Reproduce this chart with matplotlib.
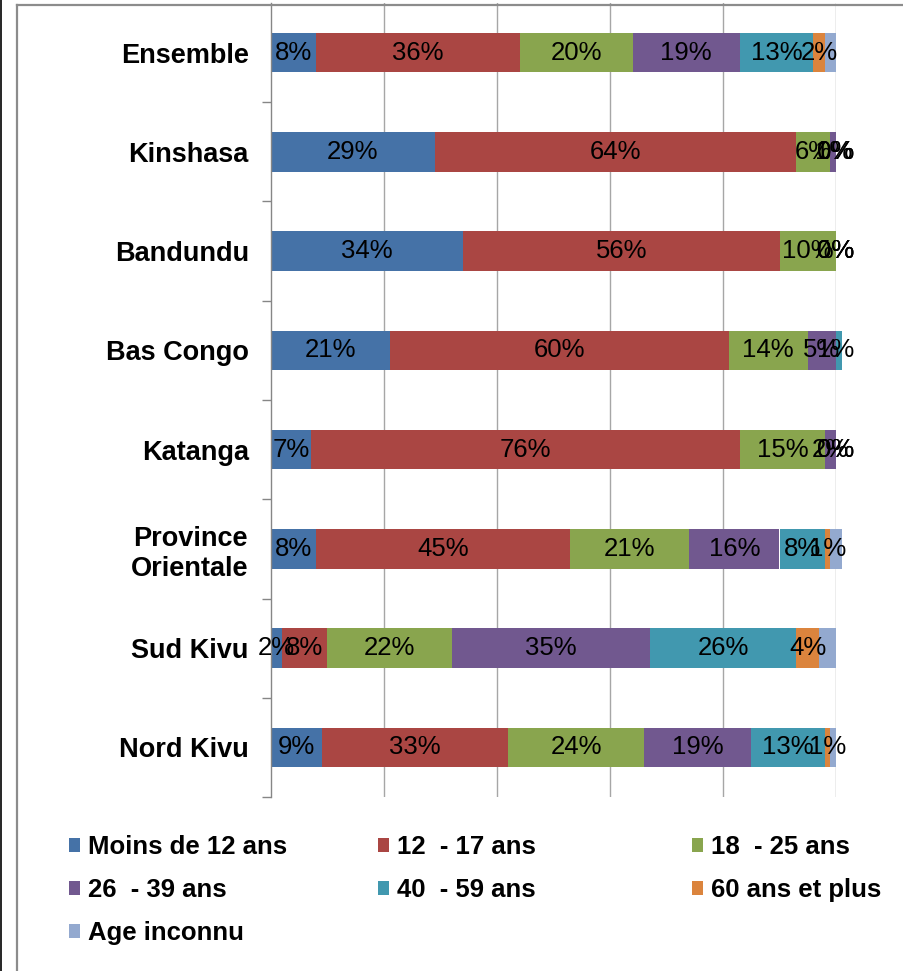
import matplotlib
matplotlib.use("Agg")
import matplotlib.pyplot as plt
from matplotlib.lines import Line2D

plt.rcParams['font.family'] = ['Liberation Sans', 'DejaVu Sans']

provinces = ["Ensemble", "Kinshasa", "Bandundu", "Bas Congo", "Katanga",
             "Province\nOrientale", "Sud Kivu", "Nord Kivu"]
groups = ["Moins de 12 ans", "12  - 17 ans", "18  - 25 ans", "26  - 39 ans",
          "40  - 59 ans", "60 ans et plus", "Age inconnu"]
colors = ["#4572A7", "#AA4643", "#89A54E", "#71588F", "#4198AF", "#DB843D", "#93A9CF"]

# percentages, one list per age group, in province order
moins12 = [8, 29, 34, 21, 7, 8, 2, 9]
a12_17 = [36, 64, 56, 60, 76, 45, 8, 33]
a18_25 = [20, 6, 10, 14, 15, 21, 22, 24]
a26_39 = [19, 1, 0, 5, 2, 16, 35, 19]
a40_59 = [13, 0, 0, 1, 0, 8, 26, 13]
a60plus = [2, 0, 0, 0, 0, 1, 4, 1]
inconnu = [2, 0, 0, 0, 0, 2, 3, 1]
series = [moins12, a12_17, a18_25, a26_39, a40_59, a60plus, inconnu]

fig = plt.figure(figsize=(9.04, 9.71), dpi=100)
ax = fig.add_axes([271 / 904, 1 - 797 / 971, 565 / 904, 794 / 971])

ypos = list(range(len(provinces)))
left = [0.0] * len(provinces)
containers = []
for name, vals, col in zip(groups, series, colors):
    frac = [v / 100 for v in vals]
    bc = ax.barh(ypos, frac, left=left, height=0.4, color=col, label=name,
                 edgecolor="none", zorder=2)
    for p in bc:
        p.set_clip_on(False)
    containers.append((bc, vals))
    left = [l + f for l, f in zip(left, frac)]

# data labels on every series except "Age inconnu"
for bc, vals in containers[:-1]:
    texts = ax.bar_label(bc, labels=[f"{v}%" for v in vals], label_type="center",
                         fontsize=18.5, color="black")
    for t in texts:
        t.set_annotation_clip(False)
        t.set_clip_on(False)

ax.set_xlim(0, 1)
ax.set_ylim(len(provinces) - 0.5, -0.5)
ax.set_xticks([0.2, 0.4, 0.6, 0.8, 1.0])
ax.set_xticklabels([])
ax.tick_params(axis="x", length=0)
ax.xaxis.grid(True, color="#A6A6A6", linewidth=1.0)
ax.set_axisbelow(True)

ax.set_yticks(ypos)
ax.set_yticklabels(provinces, fontsize=19.5, fontweight="bold", multialignment="center")
ax.tick_params(axis="y", which="major", length=0, pad=16)
ax.set_yticks([i - 0.5 for i in range(1, len(provinces) + 1)], minor=True)
ax.tick_params(axis="y", which="minor", length=6.5, width=1, color="#868686")

for s in ["top", "right", "bottom"]:
    ax.spines[s].set_visible(False)
ax.spines["left"].set_color("#868686")
ax.spines["left"].set_linewidth(1)

# legend, three columns of equal width
handles = [c[0] for c in containers]
cols = [[0, 3, 6], [1, 4], [2, 5]]
xs = [56 / 904, 365 / 904, 679 / 904]
for idx, x0 in zip(cols, xs):
    fig.legend([handles[i] for i in idx], [groups[i] for i in idx],
               loc="upper left", bbox_to_anchor=(x0, 1 - 822 / 971),
               frameon=False, ncol=1, handlelength=0.45, handleheight=0.45,
               handletextpad=0.3, labelspacing=0.74, borderpad=0,
               prop={"size": 18.5, "weight": "bold"})

# chart frame, cut by the image edges
fig.add_artist(Line2D([17.5 / 904, 17.5 / 904], [0, 1 - 5 / 971], color="#8C8C8C",
                      linewidth=1.6, transform=fig.transFigure))
fig.add_artist(Line2D([17.5 / 904, 1], [1 - 5 / 971, 1 - 5 / 971], color="#8C8C8C",
                      linewidth=1.6, transform=fig.transFigure))
fig.add_artist(Line2D([0.6 / 904, 0.6 / 904], [0, 1], color="black",
                      linewidth=1.2, transform=fig.transFigure))

fig.savefig("out.png", dpi=100)
